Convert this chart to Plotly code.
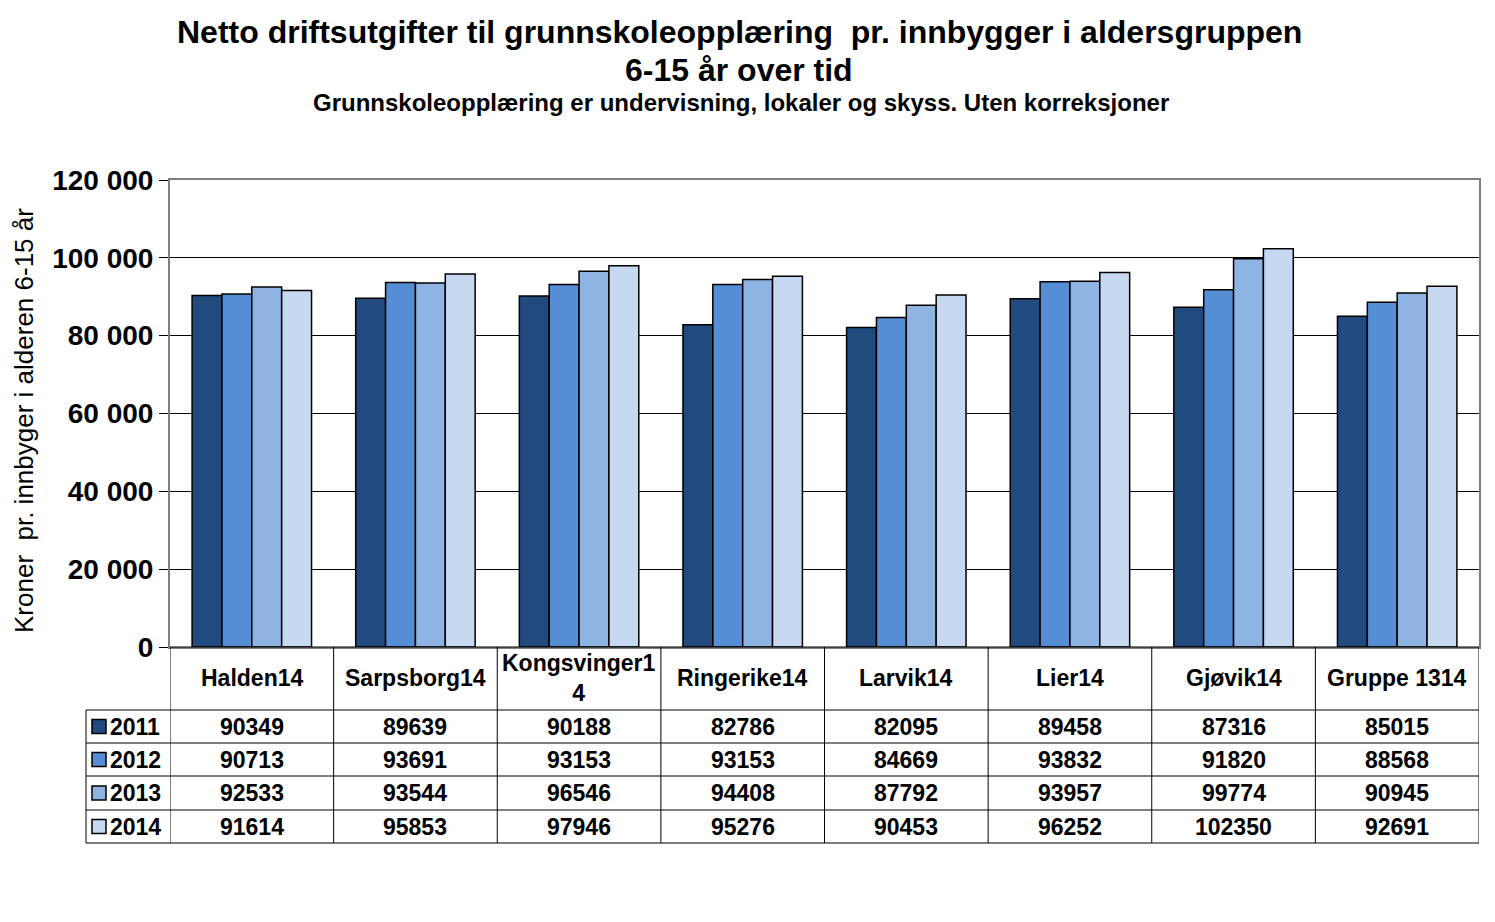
import plotly.graph_objects as go

categories = ["Halden14", "Sarpsborg14", "Kongsvinger14", "Ringerike14", "Larvik14", "Lier14", "Gjøvik14", "Gruppe 1314"]
header_labels = ["Halden14", "Sarpsborg14", "Kongsvinger1<br>4", "Ringerike14", "Larvik14", "Lier14", "Gjøvik14", "Gruppe 1314"]
years = ["2011", "2012", "2013", "2014"]
v2011 = [90349, 89639, 90188, 82786, 82095, 89458, 87316, 85015]
v2012 = [90713, 93691, 93153, 93153, 84669, 93832, 91820, 88568]
v2013 = [92533, 93544, 96546, 94408, 87792, 93957, 99774, 90945]
v2014 = [91614, 95853, 97946, 95276, 90453, 96252, 102350, 92691]
series = [v2011, v2012, v2013, v2014]
colors = ["#214A7E", "#558ED5", "#8EB4E3", "#C6D9F1"]
yticks = [0, 20000, 40000, 60000, 80000, 100000, 120000]
ytick_text = ["0", "20 000", "40 000", "60 000", "80 000", "100 000", "120 000"]

OFF = 8  # page body margin
W, H = 1495 - OFF, 922 - OFF
L, R, T, B = 170, 1479, 180, 647  # plot area in screen pixels
PW, PH = R - L, B - T

def px(x):
    return (x - L) / PW

def py(y):
    return (B - y) / PH

FONT = "Liberation Sans, Arial, sans-serif"

fig = go.Figure()
xs = list(range(len(categories)))
for yr, vals, c in zip(years, series, colors):
    fig.add_trace(go.Bar(x=xs, y=vals, name=yr, marker=dict(color=c, line=dict(color="black", width=1.5)),
                         showlegend=False))

shapes = []
annotations = []
line = dict(color="black", width=1)

for i in range(len(categories) + 1):
    shapes.append(dict(type="line", xref="x", yref="paper", x0=i - 0.5, x1=i - 0.5,
                       y0=py(647), y1=py(843), line=line))
shapes.append(dict(type="line", xref="paper", yref="paper", x0=px(86), x1=px(86),
                   y0=py(710), y1=py(843), line=line))
for yy in [710, 743, 776, 810, 843]:
    shapes.append(dict(type="line", xref="paper", yref="paper", x0=px(86), x1=1,
                       y0=py(yy), y1=py(yy), line=line))
shapes.append(dict(type="line", xref="paper", yref="paper", x0=0, x1=1,
                   y0=py(647), y1=py(647), line=line))

TF = dict(family=FONT, size=23, color="black", weight="bold")
for i, lab in enumerate(header_labels):
    annotations.append(dict(x=i, y=py(678), xref="x", yref="paper", text=lab, showarrow=False,
                            font=TF, xanchor="center", yanchor="middle"))

row_centers = [726.5, 759.5, 793, 826.5]
for yr, vals, c, yc in zip(years, series, colors, row_centers):
    shapes.append(dict(type="rect", xref="paper", yref="paper", x0=px(92), x1=px(106),
                       y0=py(yc + 7), y1=py(yc - 7), fillcolor=c, line=dict(color="black", width=1.5)))
    annotations.append(dict(x=px(108), y=py(yc), xref="paper", yref="paper", text=yr, showarrow=False,
                            font=TF, xanchor="left", yanchor="middle"))
    for i, v in enumerate(vals):
        annotations.append(dict(x=i, y=py(yc), xref="x", yref="paper", text=str(v), showarrow=False,
                                font=TF, xanchor="center", yanchor="middle"))

annotations.append(dict(x=px(739), y=py(32), xref="paper", yref="paper",
                        text="Netto driftsutgifter til grunnskoleopplæring  pr. innbygger i aldersgruppen",
                        showarrow=False, font=dict(family=FONT, size=32, color="black", weight="bold"),
                        xanchor="center", yanchor="middle"))
annotations.append(dict(x=px(739), y=py(70), xref="paper", yref="paper",
                        text="6-15 år over tid",
                        showarrow=False, font=dict(family=FONT, size=32, color="black", weight="bold"),
                        xanchor="center", yanchor="middle"))
annotations.append(dict(x=px(741), y=py(102), xref="paper", yref="paper",
                        text="Grunnskoleopplæring er undervisning, lokaler og skyss. Uten korreksjoner",
                        showarrow=False, font=dict(family=FONT, size=24, color="black", weight="bold"),
                        xanchor="center", yanchor="middle"))
annotations.append(dict(x=px(24), y=py(421), xref="paper", yref="paper",
                        text="Kroner  pr. innbyger i alderen 6-15 år", textangle=-90,
                        showarrow=False, font=dict(family=FONT, size=26, color="black"),
                        xanchor="center", yanchor="middle"))

fig.update_layout(
    width=W, height=H,
    margin=dict(l=L - OFF, r=W - (R - OFF), t=T - OFF, b=H - (B - OFF), pad=0),
    paper_bgcolor="white", plot_bgcolor="white",
    barmode="group", bargap=0.27, bargroupgap=0,
    shapes=shapes, annotations=annotations,
    xaxis=dict(range=[-0.5, len(categories) - 0.5], showticklabels=False, ticks="",
               showgrid=False, zeroline=False, showline=True, linecolor="#808080", linewidth=2, mirror=True),
    yaxis=dict(range=[0, 120000], tickvals=yticks, ticktext=ytick_text,
               ticks="outside", ticklen=9, tickcolor="black", tickwidth=1,
               tickfont=dict(family=FONT, size=28, color="black", weight="bold"),
               showgrid=True, gridcolor="black", gridwidth=1, zeroline=False,
               showline=True, linecolor="#808080", linewidth=2, mirror=True),
)

fig.write_html("out.html")
